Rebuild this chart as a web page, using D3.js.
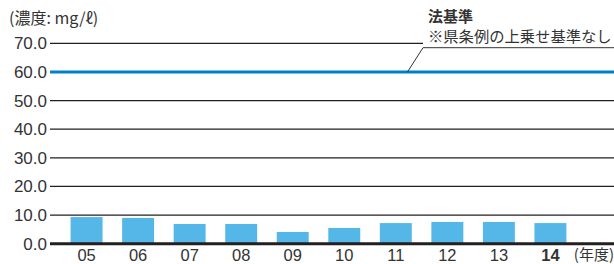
<!DOCTYPE html>
<html>
<head>
<meta charset="utf-8">
<script src="https://cdn.jsdelivr.net/npm/d3@7"></script>
<style>
  body { margin: 0; background: #fff; }
  text { font-family: "Liberation Sans", Arial, "Noto Sans CJK JP", sans-serif; fill: #333; }
  .jp { font-family: "Noto Sans CJK JP", sans-serif; }
</style>
</head>
<body>
<div id="chart-area"></div>
<script>
const width = 614;
const height = 264;

// data
const years = ['05', '06', '07', '08', '09', '10', '11', '12', '13', '14'];
const values = [9.3, 9.0, 6.9, 6.9, 4.1, 5.5, 7.2, 7.6, 7.6, 7.2];
const yTicks = [0, 10, 20, 30, 40, 50, 60, 70];
const legalLimit = 60;

const svg = d3
  .select('#chart-area')
  .append('svg')
  .attr('width', width)
  .attr('height', height);

const x = d3.scaleBand().domain(years).range([51, 586]).padding(0.38);
const y = d3.scaleLinear().domain([0, 70]).range([243.7, 43.3]);

// gridlines
svg
  .append('g')
  .selectAll('line')
  .data(yTicks.filter((d) => d !== 0 && d !== legalLimit))
  .join('line')
  .attr('x1', 50)
  .attr('x2', (d) => (d === 70 ? 423 : width))
  .attr('y1', (d) => y(d))
  .attr('y2', (d) => y(d))
  .attr('stroke', '#231f20')
  .attr('stroke-width', 1.3);

// tick labels
svg
  .append('g')
  .selectAll('text')
  .data(yTicks)
  .join('text')
  .attr('x', 47)
  .attr('y', (d) => y(d) + 6)
  .attr('text-anchor', 'end')
  .attr('font-size', 17)
  .text((d) => d.toFixed(1));

// bars
svg
  .append('g')
  .selectAll('rect')
  .data(values)
  .join('rect')
  .attr('x', (d, i) => x(years[i]))
  .attr('y', (d) => y(d))
  .attr('width', x.bandwidth())
  .attr('height', (d) => y(0) - y(d))
  .attr('fill', '#54b7e8');

// baseline
svg
  .append('line')
  .attr('x1', 50)
  .attr('x2', width)
  .attr('y1', y(0))
  .attr('y2', y(0))
  .attr('stroke', '#231f20')
  .attr('stroke-width', 3);

// legal limit line
svg
  .append('line')
  .attr('x1', 50)
  .attr('x2', width)
  .attr('y1', y(legalLimit))
  .attr('y2', y(legalLimit))
  .attr('stroke', '#0080c8')
  .attr('stroke-width', 3);

// x labels
svg
  .append('g')
  .selectAll('text')
  .data(years)
  .join('text')
  .attr('x', (d) => x(d) + x.bandwidth() / 2)
  .attr('y', 261)
  .attr('text-anchor', 'middle')
  .attr('font-size', 16.5)
  .attr('font-weight', (d) => (d === '14' ? 'bold' : 'normal'))
  .attr('fill', (d) => (d === '14' ? '#231f20' : '#333'))
  .text((d) => d);

svg
  .append('text')
  .attr('class', 'jp')
  .attr('x', 614)
  .attr('y', 260)
  .attr('text-anchor', 'end')
  .attr('font-size', 15)
  .text('(年度)');

// unit label
svg
  .append('text')
  .attr('class', 'jp')
  .attr('x', 9)
  .attr('y', 24)
  .attr('font-size', 16)
  .text('(濃度: mg/ℓ)');

// annotation
svg
  .append('text')
  .attr('class', 'jp')
  .attr('x', 428)
  .attr('y', 22)
  .attr('font-size', 15)
  .attr('font-weight', 'bold')
  .attr('fill', '#231f20')
  .text('法基準');

svg
  .append('text')
  .attr('class', 'jp')
  .attr('x', 428)
  .attr('y', 42)
  .attr('font-size', 15.3)
  .text('※県条例の上乗せ基準なし');

svg
  .append('path')
  .attr('d', `M${width},47.7H423L407.5,${y(legalLimit)}`)
  .attr('fill', 'none')
  .attr('stroke', '#333')
  .attr('stroke-width', 1);
</script>
</body>
</html>
